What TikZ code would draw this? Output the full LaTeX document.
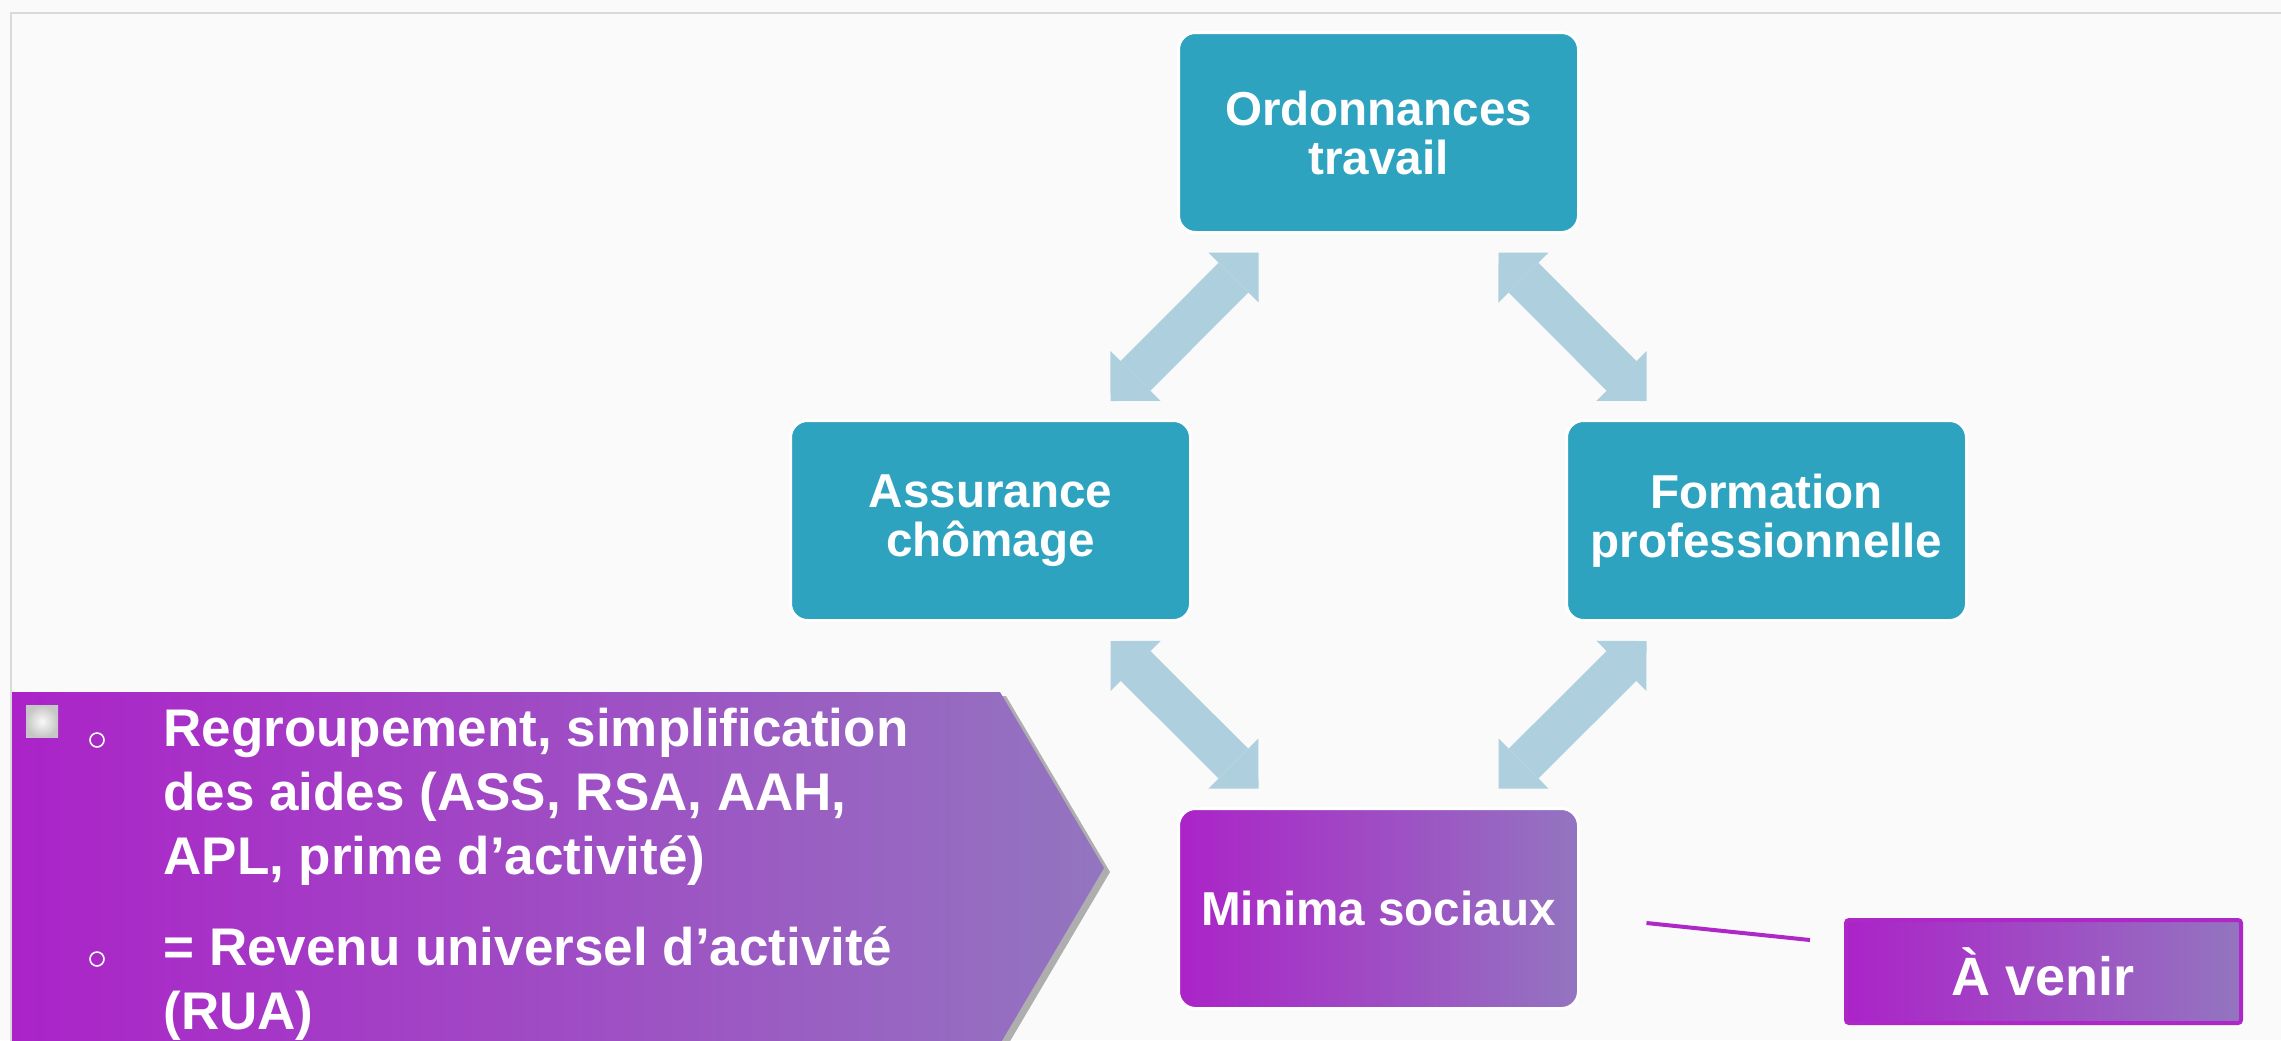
\documentclass[tikz,border=0pt]{standalone}
\usepackage{fontspec}
\setmainfont{Liberation Sans}
\usetikzlibrary{calc}
\usetikzlibrary{positioning}
\usetikzlibrary{arrows.meta,shadows}

\definecolor{bgpage}{RGB}{250,250,250}
\definecolor{framegray}{RGB}{218,218,218}
\definecolor{boxteal}{RGB}{46,163,191}
\definecolor{arrowblue}{RGB}{174,207,222}
\definecolor{purpleL}{RGB}{171,35,200}
\definecolor{purpleR}{RGB}{147,117,192}
\definecolor{purpleline}{RGB}{174,40,200}

\begin{document}
\begin{tikzpicture}[x=0.5pt, y=-0.5pt,
  every node/.style={inner sep=0pt, text=white},
  tealbox/.style={rectangle, rounded corners=8.5pt, fill=boxteal, draw=white, line width=1.5pt,
    minimum width=200pt, minimum height=100pt, align=center,
    font=\bfseries\fontsize{23.8}{24.5}\selectfont},
  purplebox/.style={tealbox, left color=purpleL, right color=purpleR},
  venirbox/.style={rectangle, rounded corners=1.5pt, draw=purpleline, line width=2pt,
    left color=purpleL, right color=purpleR, minimum width=197.5pt, minimum height=51.5pt,
    font=\bfseries\fontsize{27}{32}\selectfont},
  duoarrow/.style={draw=arrowblue, line width=21pt,
    >={Triangle[width=35.4pt,length=17.7pt,line width=0pt]}, <->},
  bullettext/.style={anchor=north west, align=left, font=\bfseries\fontsize{26.5}{32}\selectfont},
  sqbullet/.style={rectangle, minimum size=16pt, inner color=gray!5, outer color=gray!45},
  cbullet/.style={circle, draw=white, line width=0.8pt, minimum size=7pt},
  chevron/.style={left color=purpleL, right color=purpleR,
    drop shadow={shadow xshift=3pt, shadow yshift=-2pt, opacity=0.3, fill=black}},
  linkline/.style={draw=purpleline, line width=2pt}]

  \useasboundingbox (0,0) rectangle (2281,1040);
  \fill [bgpage] (0,0) rectangle (2281,1040);
  \draw [framegray, line width=1pt] (10.5,12.5) rectangle (2300,1060);

  % the four reforms
  \node [tealbox] (ord) at (1378.5,132.5) {Ordonnances\\travail};
  \node [tealbox, below left=92.5pt and -7.5pt of ord] (assur) {Assurance\\chômage};
  \node [tealbox, below right=92.5pt and -7.5pt of ord] (form) {Formation\\professionnelle};
  \node [purplebox, below right=92.5pt and -7.5pt of assur] (minima) {Minima sociaux};

  \coordinate (a1) at ($(ord.south west)+(81.5,18.5)$);
  \coordinate (a2) at ($(assur.north east)+(-81.5,-18)$);
  \coordinate (b1) at ($(ord.south east)+(-81.5,18.5)$);
  \coordinate (b2) at ($(form.north west)+(81.5,-18)$);
  \coordinate (c1) at ($(assur.south east)+(-81.5,19)$);
  \coordinate (c2) at ($(minima.north west)+(81.5,-18.5)$);
  \coordinate (d1) at ($(form.south west)+(81.5,19)$);
  \coordinate (d2) at ($(minima.north east)+(-81.5,-18.5)$);
  \draw [duoarrow] (a1) -- (a2);
  \draw [duoarrow] (b1) -- (b2);
  \draw [duoarrow] (c1) -- (c2);
  \draw [duoarrow] (d1) -- (d2);

  % callout
  \path [chevron] (12,692) -- (1000,692) -- (1104,868) -- (1000,1044) -- (12,1044) -- cycle;
  \node [sqbullet] (sq) at (42,721.5) {};
  \node [cbullet] (o1) at (97,740) {};
  \node [cbullet] (o2) at (97,959) {};
  \node [bullettext] (t1) at (163,708) {Regroupement, simplification\\des aides (ASS, RSA, AAH,\\APL, prime d’activité)};
  \node [bullettext] (t2) at (163,926) {= Revenu universel d’activité\\(RUA)};

  \node [venirbox] (avenir) at (2043.5,971.5) {À venir};
  \coordinate (m1) at ($(minima.east)+(66.5,14.5)$);
  \coordinate (v1) at ($(avenir.west)+(-34,-31.5)$);
  \draw [linkline] (m1) -- (v1);

\end{tikzpicture}
\end{document}
